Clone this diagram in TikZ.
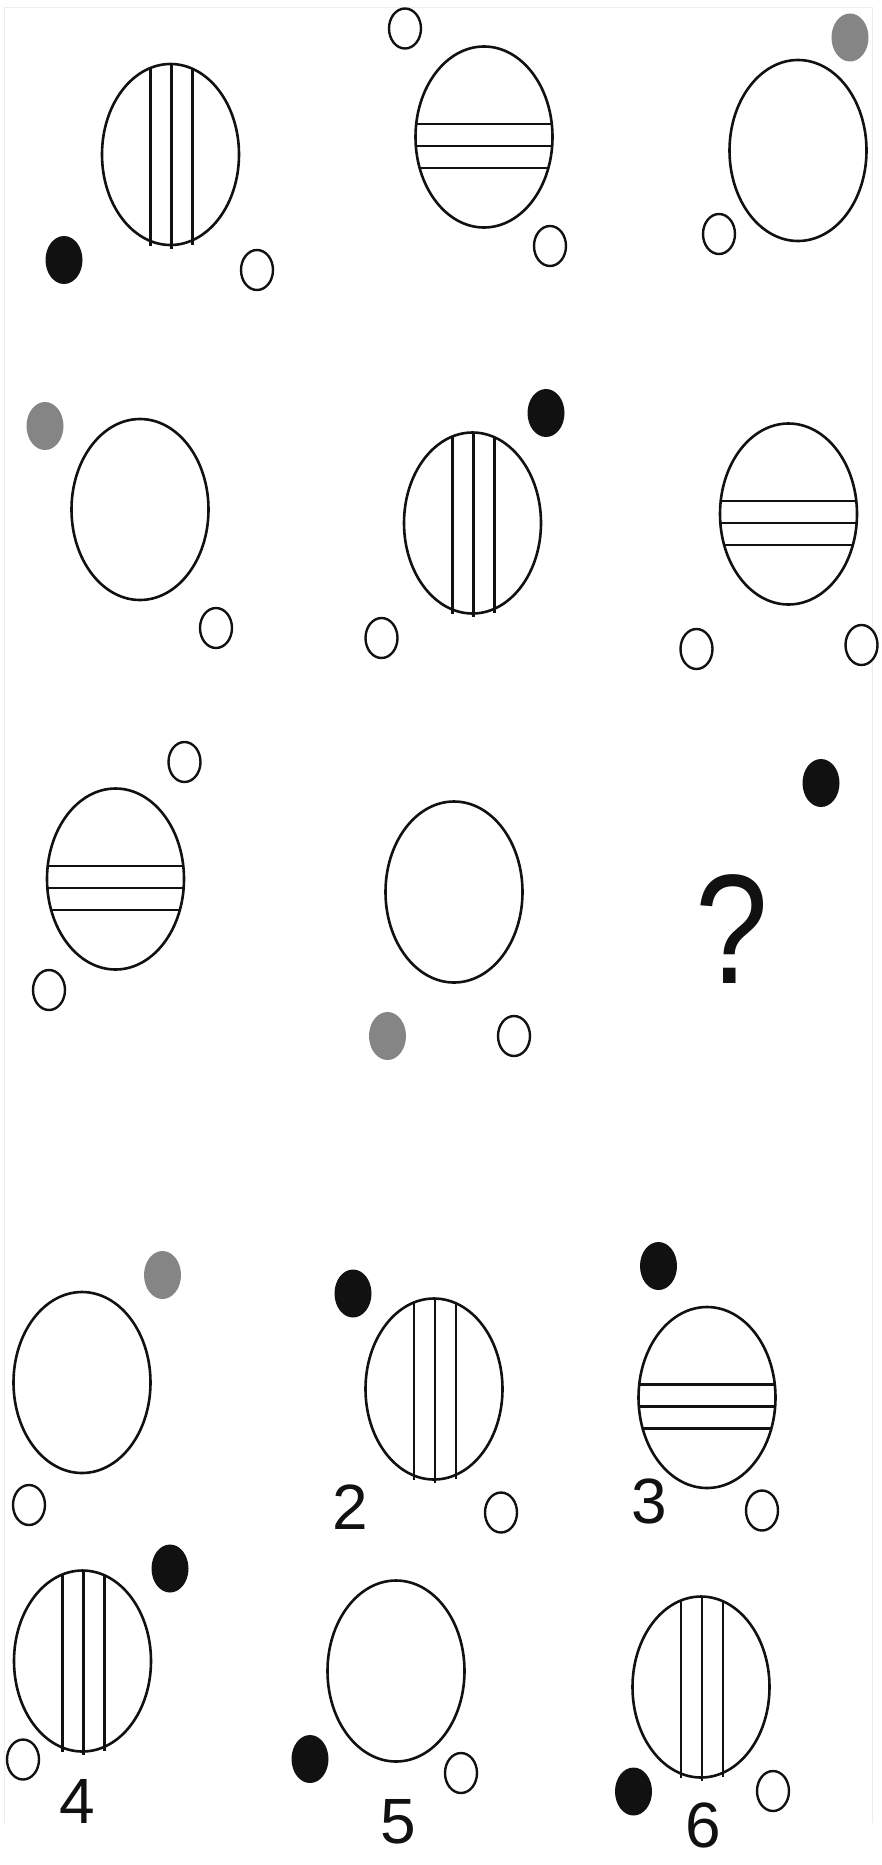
\documentclass[tikz,border=0pt]{standalone}
\usepackage{fontspec}
\setmainfont{Liberation Sans}
\usetikzlibrary{
  calc,
  shapes.geometric
}
\definecolor{Ink}{HTML}{111111}
\definecolor{DotGray}{HTML}{858585}
\definecolor{FrameGray}{HTML}{ECECEC}
\newcommand{\puzzledigitfont}{\fontsize{64}{70}\selectfont}
\newcommand{\puzzlequeryfont}{\fontsize{156}{160}\selectfont}
\tikzset{
  % One pixel of the puzzle sheet is one point here.
  big oval/.style={
    ellipse,
    draw=Ink,
    line width=2.6pt,
    fill=white,
    inner sep=0pt,
    minimum width=137pt,
    minimum height=181pt
  },
  filled dot/.style={
    ellipse,
    fill=#1,
    inner sep=0pt,
    minimum width=37pt,
    minimum height=48pt
  },
  filled dot/.default=Ink,
  open dot/.style={
    ellipse,
    draw=Ink,
    line width=2.4pt,
    fill=white,
    inner sep=0pt,
    minimum width=32pt,
    minimum height=40pt
  },
  stripe/.style={
    draw=Ink,
    line width=2.4pt
  },
  choice label/.style={
    font=\puzzledigitfont,
    text=Ink,
    inner sep=0pt
  },
  query mark/.style={
    font=\puzzlequeryfont,
    text=Ink,
    inner sep=0pt
  },
  frame line/.style={
    draw=FrameGray,
    line width=1pt
  }
}

\begin{document}
\begin{tikzpicture}[x=1pt,y=-1pt]

\useasboundingbox (0,0) rectangle (881,1865);

% faint sheet border
\draw[frame line] (4,1823) -- (4,8) -- (872,8) -- (872,1823);

% ---------------------------------------------------------------------------
% Row 1
% ---------------------------------------------------------------------------
\node[big oval] (ovalA) at (170.5,154.5) {};
\node[filled dot] (dotA1) at (64,260) {};
\node[open dot] (dotA2) at (257,270) {};

\node[big oval] (ovalB) at (484,137) {};
\node[open dot] (dotB1) at (405,28.5) {};
\node[open dot] (dotB2) at (550,246) {};

\node[big oval] (ovalC) at (798,150.5) {};
\node[filled dot=DotGray] (dotC1) at (850,37.5) {};
\node[open dot] (dotC2) at (719,234) {};

% ---------------------------------------------------------------------------
% Row 2
% ---------------------------------------------------------------------------
\node[big oval] (ovalD) at (140,509.5) {};
\node[filled dot=DotGray] (dotD1) at (45,426) {};
\node[open dot] (dotD2) at (216,628) {};

\node[big oval] (ovalE) at (472.5,523) {};
\node[filled dot] (dotE1) at (546,413) {};
\node[open dot] (dotE2) at (381.5,638) {};

\node[big oval] (ovalF) at (788.5,514) {};
\node[open dot] (dotF1) at (696.5,649) {};
\node[open dot] (dotF2) at (861.5,645) {};

% ---------------------------------------------------------------------------
% Row 3 (the last cell is the one asked for)
% ---------------------------------------------------------------------------
\node[big oval] (ovalG) at (115.5,879) {};
\node[open dot] (dotG1) at (184.5,762) {};
\node[open dot] (dotG2) at (49,990) {};

\node[big oval] (ovalH) at (454,892) {};
\node[filled dot=DotGray] (dotH1) at (387.5,1036) {};
\node[open dot] (dotH2) at (514,1036) {};

\node[filled dot] (dotI1) at (821,783) {};
\node[query mark] (query) at (732,929) {\scalebox{0.84}[1]{?}};

% ---------------------------------------------------------------------------
% Answer choices
% ---------------------------------------------------------------------------
\node[big oval] (optOne) at (82,1382.5) {};
\node[filled dot=DotGray] (optOneDot) at (162.5,1275) {};
\node[open dot] (optOneRing) at (29,1505) {};

\node[big oval] (optTwo) at (434,1389) {};
\node[filled dot] (optTwoDot) at (353,1293.5) {};
\node[open dot] (optTwoRing) at (501,1512.5) {};
\node[choice label] (optTwoLabel) at (350,1507) {2};

\node[big oval] (optThree) at (707,1397.5) {};
\node[filled dot] (optThreeDot) at (658.5,1266) {};
\node[open dot] (optThreeRing) at (762,1510.5) {};
\node[choice label] (optThreeLabel) at (649,1501) {3};

\node[big oval] (optFour) at (82.5,1661) {};
\node[filled dot] (optFourDot) at (170,1568.5) {};
\node[open dot] (optFourRing) at (23,1759.5) {};
\node[choice label] (optFourLabel) at (77,1801) {4};

\node[big oval] (optFive) at (396,1671) {};
\node[filled dot] (optFiveDot) at (310,1759) {};
\node[open dot] (optFiveRing) at (461,1773) {};
\node[choice label] (optFiveLabel) at (398.5,1822) {5};

\node[big oval] (optSix) at (701,1687) {};
\node[filled dot] (optSixDot) at (633.5,1791.5) {};
\node[open dot] (optSixRing) at (773,1791) {};
\node[choice label] (optSixLabel) at (703,1825.5) {6};

% ---------------------------------------------------------------------------
% Stripes inside the ovals
% ---------------------------------------------------------------------------
\foreach \name in {ovalA,ovalE,optTwo,optFour,optSix}{
  \foreach \dx/\h in {-20/87,1/90,22/86}{
    \draw[stripe] ($(\name.center)+(\dx,-\h)$) -- ($(\name.center)+(\dx,\h+4)$);
  }
}
\foreach \name in {ovalB,ovalF,ovalG,optThree}{
  \foreach \dy/\w in {-13/67.8,9/68.2,31/64.4}{
    \draw[stripe] ($(\name.center)+(-\w,\dy)$) -- ($(\name.center)+(\w,\dy)$);
  }
}

\end{tikzpicture}
\end{document}
